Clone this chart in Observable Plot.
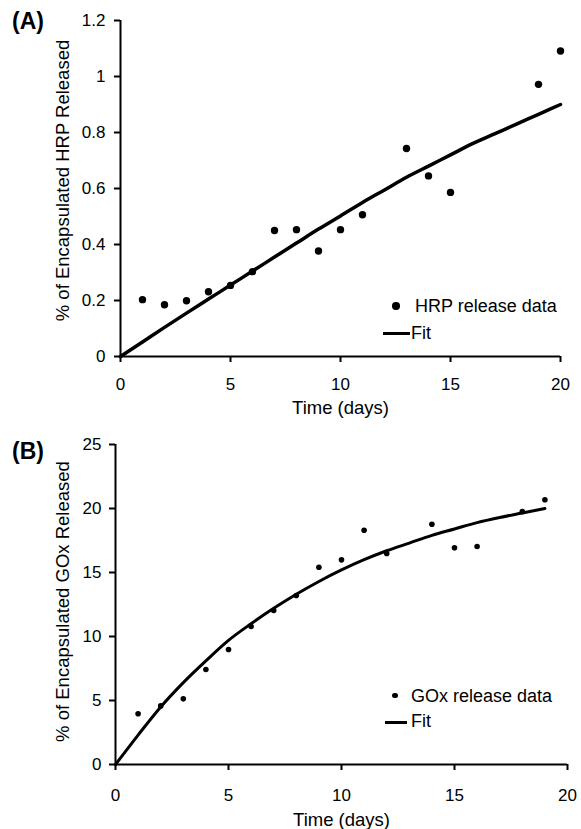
<!DOCTYPE html>
<html>
<head>
<meta charset="utf-8">
<script src="https://cdn.jsdelivr.net/npm/d3@7"></script>
<script src="https://cdn.jsdelivr.net/npm/@observablehq/plot@0.6"></script>
<style>
  html, body { margin: 0; padding: 0; background: #fff; }
  #fig { position: relative; width: 581px; height: 829px; font-family: "Liberation Sans", Arial, sans-serif; color: #000; }
  #fig > .panel { position: absolute; left: 0; }
  .tag { position: absolute; font-weight: bold; font-size: 23px; line-height: 23px; white-space: nowrap; }
  .leg { position: absolute; font-size: 18px; line-height: 18px; white-space: nowrap; }
  .ldot { position: absolute; background: #000; border-radius: 50%; }
  .lline { position: absolute; background: #000; }
</style>
</head>
<body>
<div id="fig"></div>
<script>
// ---- Panel A data ----
const hrpDays = [1, 2, 3, 4, 5, 6, 7, 8, 9, 10, 11, 13, 14, 15, 19, 20];
const hrpValues = [0.203, 0.185, 0.199, 0.231, 0.254, 0.303, 0.45, 0.453, 0.377, 0.453, 0.506, 0.743, 0.645, 0.586, 0.972, 1.091];
const hrpFitDays = [0, 1, 2, 3, 4, 5, 6, 7, 8, 9, 10, 11, 12, 13, 14, 15, 16, 17, 18, 19, 20];
const hrpFitValues = [0, 0.052, 0.104, 0.155, 0.205, 0.255, 0.305, 0.355, 0.405, 0.455, 0.502, 0.55, 0.595, 0.64, 0.68, 0.72, 0.76, 0.795, 0.83, 0.865, 0.9];
const xTicksA = [0, 5, 10, 15, 20];
const yTicksA = [0, 0.2, 0.4, 0.6, 0.8, 1, 1.2];

// ---- Panel B data ----
const goxDays = [1, 2, 3, 4, 5, 6, 7, 8, 9, 10, 11, 12, 14, 15, 16, 18, 19];
const goxValues = [3.96, 4.58, 5.13, 7.42, 8.98, 10.78, 12.03, 13.2, 15.41, 15.99, 18.3, 16.48, 18.77, 16.93, 17.03, 19.77, 20.68];
const goxFitDays = [0, 1, 2, 3, 4, 5, 6, 7, 8, 9, 10, 11, 12, 13, 14, 15, 16, 17, 18, 19];
const goxFitValues = [0, 2.3, 4.5, 6.4, 8.1, 9.7, 11.0, 12.2, 13.3, 14.3, 15.2, 16.0, 16.7, 17.3, 17.9, 18.4, 18.9, 19.3, 19.65, 20.0];
const xTicksB = [0, 5, 10, 15, 20];
const yTicksB = [0, 5, 10, 15, 20, 25];

const xLabel = "Time (days)";
const yLabelA = "% of Encapsulated HRP Released";
const yLabelB = "% of Encapsulated GOx Released";
const legendA = ["HRP release data", "Fit"];
const legendB = ["GOx release data", "Fit"];

const zip = (xs, ys) => xs.map((x, i) => ({x, y: ys[i]}));

function panel(o) {
  return Plot.plot({
    width: 581,
    height: o.height,
    marginLeft: o.ml, marginRight: o.mr, marginTop: o.mt, marginBottom: o.mb,
    x: {domain: [0, 20]},
    y: {domain: o.ydom},
    style: {fontFamily: "'Liberation Sans', Arial, sans-serif", fontSize: "17px", color: "#000", background: "#fff", overflow: "visible"},
    marks: [
      Plot.axisX({ticks: o.xticks, tickSize: 6, tickPadding: o.xpad, strokeWidth: 2, label: null, tickFormat: d => `${d}`}),
      Plot.axisY({ticks: o.yticks, tickSize: 6, tickPadding: o.ypad, strokeWidth: 2, label: null, tickFormat: d => `${d}`}),
      Plot.ruleX([0], {strokeWidth: 2}),
      Plot.ruleY([0], {strokeWidth: 2}),
      Plot.line(o.fit, {x: "x", y: "y", strokeWidth: o.lw, curve: "monotone-x"}),
      Plot.dot(o.data, {x: "x", y: "y", r: o.r, fill: "#000", stroke: "none"}),
      Plot.text([xLabel], {frameAnchor: "bottom", lineAnchor: "middle", dy: o.xldy, fontSize: 18.5}),
      Plot.text([o.ylabel], {frameAnchor: "left", rotate: -90, textAnchor: "middle", lineAnchor: "middle", dx: o.yldx, dy: o.yldy, fontSize: 18.5})
    ]
  });
}

const fig = document.getElementById("fig");

const a = panel({
  height: 420, ml: 120, mr: 21, mt: 20, mb: 64,
  ydom: [0, 1.2], xticks: xTicksA, yticks: yTicksA, xpad: 15, ypad: 9,
  fit: zip(hrpFitDays, hrpFitValues), data: zip(hrpDays, hrpValues),
  lw: 3.5, r: 3.7, xldy: 52, ylabel: yLabelA, yldx: -57, yldy: -8
});
a.classList.add("panel"); a.style.top = "0px";
fig.appendChild(a);

const b = panel({
  height: 409, ml: 115, mr: 14, mt: 24, mb: 65,
  ydom: [0, 25], xticks: xTicksB, yticks: yTicksB, xpad: 18, ypad: 8,
  fit: zip(goxFitDays, goxFitValues), data: zip(goxDays, goxValues),
  lw: 3, r: 2.8, xldy: 56, ylabel: yLabelB, yldx: -52, yldy: -3
});
b.classList.add("panel"); b.style.top = "420px";
fig.appendChild(b);

function el(cls, css, text) {
  const d = document.createElement("div");
  d.className = cls;
  Object.assign(d.style, css);
  if (text) d.textContent = text;
  fig.appendChild(d);
}

// panel tags
el("tag", {left: "12px", top: "9.5px"}, "(A)");
el("tag", {left: "12px", top: "439.5px"}, "(B)");

// legend A
el("ldot", {left: "392.3px", top: "302.3px", width: "7.4px", height: "7.4px"});
el("leg", {left: "415px", top: "297.2px"}, legendA[0]);
el("lline", {left: "383px", top: "331.5px", width: "27px", height: "3.5px"});
el("leg", {left: "411px", top: "323.7px"}, legendA[1]);

// legend B
el("ldot", {left: "392.2px", top: "692.9px", width: "5.6px", height: "5.6px"});
el("leg", {left: "411px", top: "686.7px"}, legendB[0]);
el("lline", {left: "385px", top: "720.8px", width: "22px", height: "3px"});
el("leg", {left: "411px", top: "712.4px"}, legendB[1]);
</script>
</body>
</html>
